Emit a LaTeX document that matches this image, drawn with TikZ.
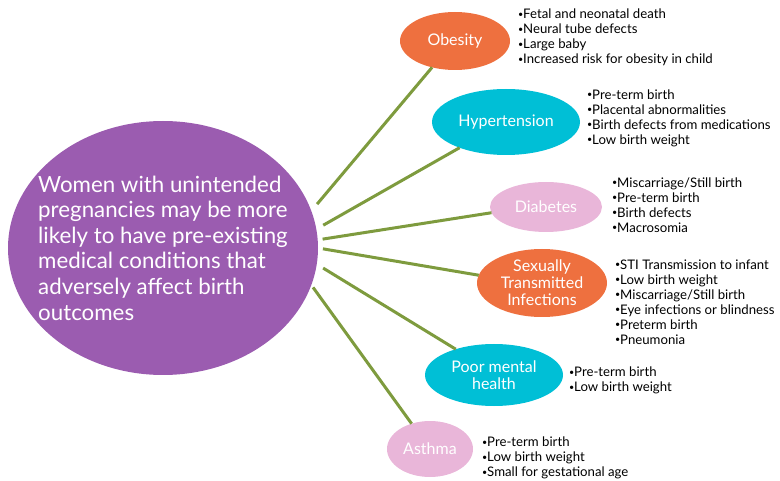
\documentclass[tikz,border=0pt]{standalone}
\usepackage{fontspec}
\setmainfont{Lato}
\usetikzlibrary{shapes.geometric}
\definecolor{plum}{HTML}{9B5CB0}
\definecolor{tang}{HTML}{EE703F}
\definecolor{aqua}{HTML}{00BFD6}
\definecolor{rose}{HTML}{E9B6D9}
\definecolor{leaf}{HTML}{7E9B3E}
\newcommand{\fxdot}{\raisebox{.2ex}{\fontsize{9}{9}\selectfont•}}
\begin{document}
\begin{tikzpicture}[x=1pt,y=-1pt,inner sep=0pt,outer sep=0pt,
blob/.style={draw=none,fill=#1,ellipse},
blobtext/.style={text=white,align=center,font=\fontsize{16}{17}\selectfont},
bigtext/.style={text=white,align=left,font=\fontsize{22.3}{25.6}\selectfont},
fxlist/.style={anchor=west,align=left,font=\fontsize{13.2}{15}\selectfont},
spoke/.style={draw=leaf,line width=3pt}]

\useasboundingbox (0,0) rectangle (780,481);

\node[blob=plum,minimum width=310pt,minimum height=254pt] (women) at (163,248) {};
\node[bigtext] (womentext) at (women.center) {Women with unintended\\pregnancies may be more\\likely to have pre-existing\\medical conditions that\\adversely affect birth\\outcomes};

\node[blob=tang,minimum width=110pt,minimum height=58pt,label={[blobtext]center:Obesity}] (obesity) at (455,41) {};
\node[blob=aqua,minimum width=148pt,minimum height=66pt,label={[blobtext]center:Hypertension}] (hyper) at (506,122) {};
\node[blob=rose,minimum width=112pt,minimum height=50pt,label={[blobtext]center:Diabetes}] (diabetes) at (546,207) {};
\node[blob=tang,minimum width=130pt,minimum height=68pt,label={[blobtext]center:Sexually\\Transmitted\\Infections}] (sti) at (542,283) {};
\node[blob=aqua,minimum width=138pt,minimum height=62pt,label={[blobtext]center:Poor mental\\health}] (mental) at (494,375) {};
\node[blob=rose,minimum width=86pt,minimum height=56pt,label={[blobtext]center:Asthma}] (asthma) at (430,449) {};

\node[fxlist] (obesityfx) at (518,37.5) {\fxdot Fetal and neonatal death\\\fxdot Neural tube defects\\\fxdot Large baby\\\fxdot Increased risk for obesity in child};
\node[fxlist] (hyperfx) at (587,118) {\fxdot Pre-term birth\\\fxdot Placental abnormalities\\\fxdot Birth defects from medications\\\fxdot Low birth weight};
\node[fxlist] (diabetesfx) at (612,204.7) {\fxdot Miscarriage/Still birth\\\fxdot Pre-term birth\\\fxdot Birth defects\\\fxdot Macrosomia};
\node[fxlist] (stifx) at (615,301.8) {\fxdot STI Transmission to infant\\\fxdot Low birth weight\\\fxdot Miscarriage/Still birth\\\fxdot Eye infections or blindness\\\fxdot Preterm birth\\\fxdot Pneumonia};
\node[fxlist] (mentalfx) at (569,380.2) {\fxdot Pre-term birth\\\fxdot Low birth weight};
\node[fxlist] (asthmafx) at (482,457.7) {\fxdot Pre-term birth\\\fxdot Low birth weight\\\fxdot Small for gestational age};

\draw[spoke,shorten <=9pt] (women.14.4) -- (obesity.229);
\draw[spoke,shorten <=8pt] (women.7.9) -- (hyper.209);
\draw[spoke,shorten <=5pt] (women.3) -- (diabetes.186);
\draw[spoke,shorten <=5pt] (women.-0.8) -- (sti.173);
\draw[spoke,shorten <=7.5pt] (women.-6.7) -- (mental.146);
\draw[spoke,shorten <=3pt] (women.-14.2) -- (asthma.126.5);
\end{tikzpicture}
\end{document}
